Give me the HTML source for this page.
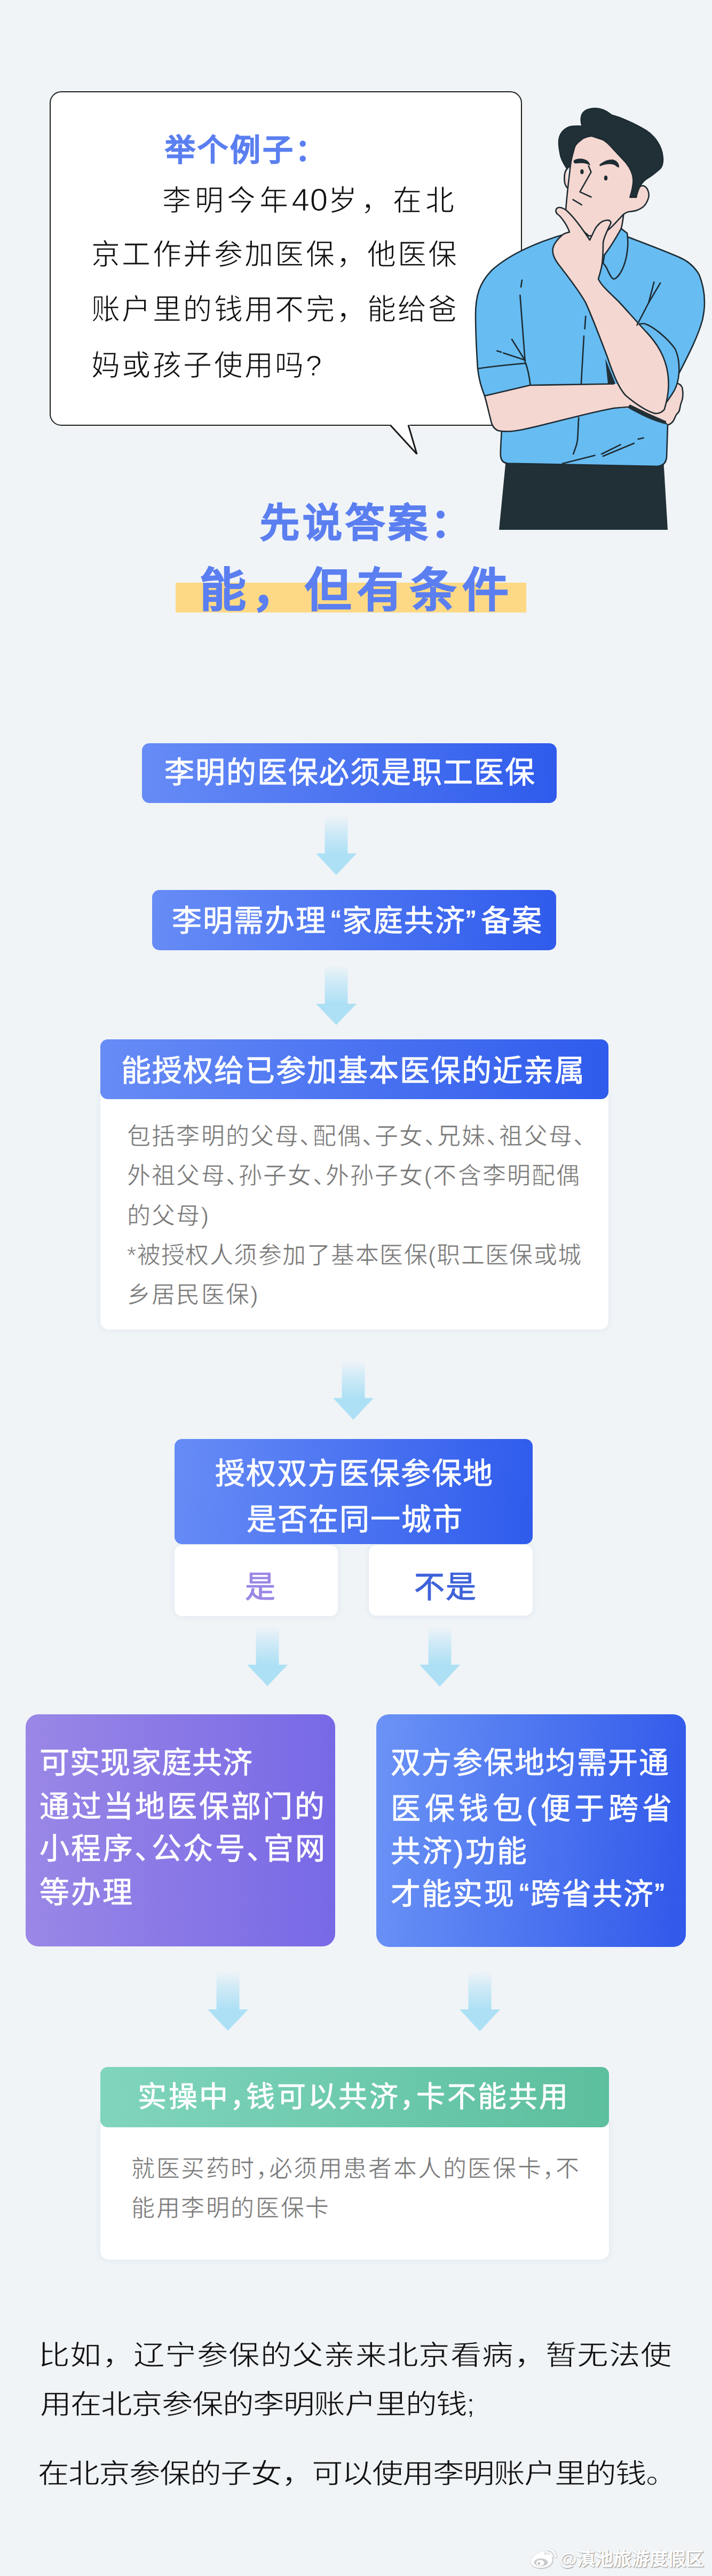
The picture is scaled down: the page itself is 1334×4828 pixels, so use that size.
<!DOCTYPE html>
<html lang="zh-CN"><head><meta charset="utf-8">
<style>
html,body{margin:0;padding:0;}
body{width:1334px;height:4828px;position:relative;overflow:hidden;background:#f0f4f7;font-family:"Liberation Sans",sans-serif;}
.a{position:absolute;white-space:nowrap;line-height:1.5;}
.bubble{position:absolute;left:92.5px;top:170.5px;width:881px;height:623px;border:2.8px solid #1b1b1b;border-radius:22px;background:#fff;}
.q{color:#111;font-size:54px;letter-spacing:3.4px;-webkit-text-stroke:1px #fff;paint-order:normal;}
.box{position:absolute;border-radius:14px;background:linear-gradient(95deg,#678cf6,#2f5bec);}
.wt{color:#fff;font-size:56px;letter-spacing:2px;-webkit-text-stroke:0.9px #fff;font-feature-settings:"halt";}
.card{position:absolute;background:#fff;border-radius:16px;box-shadow:0 0 12px rgba(180,200,225,0.35);}
.gt{color:#777;font-size:44px;letter-spacing:2.2px;font-feature-settings:"halt";-webkit-text-stroke:0.6px #fff;}
.bt{color:#111;font-size:51px;letter-spacing:4px;-webkit-text-stroke:0.8px #f0f4f7;transform:scaleX(1.15);transform-origin:0 0;}
.pt{color:#fff;font-size:56px;-webkit-text-stroke:0.8px #fff;font-feature-settings:"halt";}
</style></head><body>

<div class="bubble"></div>
<svg class="a" style="left:0;top:0;line-height:0" width="1334" height="900">
  <polygon points="729,795 767,795 781,851" fill="#fff"/>
  <polyline points="731,796.5 781,851 765,796.5" fill="none" stroke="#1b1b1b" stroke-width="3" stroke-linejoin="miter"/>
</svg>
<div class="a" style="left:309px;top:239px;font-size:57px;font-weight:bold;color:#5b7ff0;letter-spacing:4px;-webkit-text-stroke:1px #5b7ff0">举个例子：</div>
<div class="a q" style="left:304px;top:336px;letter-spacing:6.6px">李明今年<span style="font-size:60px;line-height:1;letter-spacing:1px">40</span>岁，在北</div>
<div class="a q" style="left:171px;top:437px">京工作并参加医保，他医保</div>
<div class="a q" style="left:171px;top:540px">账户里的钱用不完，能给爸</div>
<div class="a q" style="left:171px;top:645px">妈或孩子使用吗?</div>

<svg class="a" style="left:0;top:0;line-height:0" width="1334" height="1000" viewBox="0 0 1334 1000">
<g stroke="#1e2c33" stroke-width="2.6" stroke-linejoin="round" stroke-linecap="round">
  <!-- pants -->
  <path d="M948,860 L1243,860 L1251,993 L935,993 Z" fill="#213037" stroke="none"/>
  <!-- torso -->
  <path d="M1065,437 C1010,452 955,476 922,506 C898,530 891,555 891,590 C891,625 893,660 895,691 L985,681 L993,721 L940,800 C939,830 937,845 938,855 C939,864 944,868 952,868.5 L1232,874 C1243,873 1248,866 1249,857 L1251,796 L1240,775 L1240,700 L1272,700 C1290,665 1308,630 1316,600 C1323,570 1320,540 1310,515 C1300,497 1285,487 1270,481 C1240,468 1205,455 1176,444 L1162,426 Z" fill="#67bcf2"/>
  <!-- left sleeve cuff -->
  <path d="M895,691 C920,687 960,683 985,681 C990,695 992,708 993.5,721 C993,724 990,726 986,727 C960,732 930,738 908,742 C901,725 897,708 895,691 Z" fill="#67bcf2"/>
  <!-- horizontal forearm -->
  <path d="M908,742 L993,722 L1100,719.5 L1245,719.5 L1252,792 C1215,775 1190,762 1150,765 C1100,774 1044,791 980,805 C960,809 945,810 933,807 C924,803 921,795 919,785 C915,770 912,755 908,742 Z" fill="#f5d7d1" stroke="none"/><path d="M1150,719.5 L993,722 L908,742 C912,755 915,770 919,785 C921,795 924,803 933,807 C945,810 960,809 980,805 C1044,791 1100,774 1150,765 C1170,763 1180,762 1190,764" fill="none"/>
  <!-- dark shadow wedges -->
  <path d="M1134,672 L1153,719 L1139,719 Z" fill="#213037" stroke="none"/>
  <path d="M1180,758 C1205,770 1230,782 1250,790 L1251,796 C1225,790 1200,778 1176,764 Z" fill="#213037" stroke="none"/>
  <!-- right gripping hand -->
  <path d="M1250,716 L1268,718 C1275,720 1279,725 1279,732 C1280,740 1279.5,747 1277,753 C1275,757 1275,760 1274,764 C1273.5,769 1272,773 1268,776 C1265,780 1264,785 1262,788 C1259,793 1256,795 1252,796 L1248,792 L1244,760 L1240,716 Z" fill="#f5d7d1" stroke="none"/><path d="M1268,718 C1275,720 1279,725 1279,732 C1280,740 1279.5,747 1277,753 C1275,757 1275,760 1274,764 C1273.5,769 1272,773 1268,776 C1265,780 1264,785 1262,788 C1259,793 1256,795 1252,796" fill="none"/>
  <!-- right sleeve cuff around elbow -->
  <path d="M1193,610 C1198,607 1204,606 1209,607 C1225,613 1250,633 1265,654 C1271,667 1273,684 1272,700 C1271,715 1266,729 1259,739 C1255,745 1251,751 1247,756 L1236,700 Z" fill="#67bcf2"/>
  <!-- neck -->
  <path d="M1060,385 L1172,396 L1164,430 L1132,478 L1068,440 Z" fill="#f5d7d1" stroke="none"/>
  <path d="M1168.3,401.5 C1167,412 1166,422 1163.8,428.4 C1158,442 1150,453 1145.8,459.9 C1140,468 1136,474 1132.4,477.9" fill="none"/>
  <!-- collar right -->
  <path d="M1163.8,428.4 L1175,437 C1178,455 1176,480 1168,500 C1163,512 1156,522 1150,523 C1145,522 1141,512 1137,503 C1134,498 1132,495 1130,493.6 L1132.4,477.9 C1140,468 1150,453 1163.8,428.4 Z" fill="#67bcf2"/>
  <!-- face -->
  <path d="M1068.8,309.5 C1066,335 1062,365 1060,395 L1065,405 C1075,418 1092,432 1103,442 C1110,443 1120,440 1137,433 C1148,425 1160,410 1168.3,401.5 C1172,399 1176,397 1178.6,396.7 C1186,396 1192,395 1194.7,393.5 C1204,390 1212,384 1215.7,367.7 C1216,358 1212,350 1205,348 C1198,348 1192,355 1188.3,367.7 L1192,369.6 L1195,340 L1170,290 L1130,262 L1107.5,254.6 C1098,256 1090,260 1088,262.7 C1080,268 1076,275 1075.2,280.4 C1071,295 1069,305 1068.8,309.5 Z" fill="#f5d7d1"/>
  <!-- left ear -->
  <path d="M1063,316 C1058,320 1057,330 1057.5,338.6 C1058,345 1060,349 1063,352" fill="#f5d7d1"/>
  <!-- hair -->
  <path d="M1047.8,259.5 C1050,248 1060,238 1072,236.8 C1080,236 1086,236 1091.4,236.8 C1087,228 1088,214 1094.6,209.4 C1100,204 1115,200 1130,206 C1138,209 1142,213 1146,215.8 C1160,219 1190,232 1210.9,244.9 C1228,256 1240,275 1241.6,293.4 C1243,305 1240,313 1236.7,316 C1230,322 1220,330 1213,334 C1203,340 1196,350 1192,369.6 L1180.4,369.6 C1184,358 1187,345 1186.3,336 C1186,326 1180,314 1172.6,304.7 C1163,294 1152,283 1145,275 C1135,264 1125,255 1107.5,254.6 C1098,256 1090,260 1088.1,262.7 C1080,268 1076,275 1075.2,280.4 C1071,295 1069,305 1068.8,309.5 C1067,312 1064,315 1062.3,316 C1055,305 1050,295 1049.4,286.9 C1047,275 1046.5,265 1047.8,259.5 Z" fill="#213037"/>
  <!-- eyebrows eyes nose mouth -->
  <path d="M1076,300 C1083,295.5 1095,296.5 1101,301.5 C1104,304.5 1106,308 1105.5,310.5 C1101,306.5 1092,304.5 1078,306.5 C1074.5,305.5 1073.5,302 1076,300 Z" fill="#1e2c33" stroke="none"/>
  <path d="M1123,309 C1130,302 1142,297.5 1150,299.5 C1156,301.5 1160.5,307 1160,313.5 C1157.5,314.5 1155,312 1152,309.5 C1145,306 1135,307 1124,311.5 Z" fill="#1e2c33" stroke="none"/>
  <ellipse cx="1090.4" cy="321.8" rx="3.2" ry="4.6" fill="#1e2c33" stroke="none"/>
  <ellipse cx="1135" cy="333.7" rx="3.2" ry="4.6" fill="#1e2c33" stroke="none"/>
  <path d="M1102.7,311.1 L1107.5,322.4 L1086.5,359.6 L1107.5,369.3" fill="none"/>
  <path d="M1073.6,374.1 L1089.8,383.8" fill="none"/>
  <!-- chin hand + raised forearm -->
  <path d="M1042.5,391.3 C1047,386 1056,390 1062,395 C1075,407 1092,430 1105,450 L1114,431 C1119,421 1128,413 1137,412.7 C1143,412 1146,416 1143.6,420 C1138,432 1131,445 1130,455 C1130,470 1130,480 1128,495 C1126,508 1122,518 1121,523 C1127,535 1138,545 1158,564 C1175,582 1190,600 1211.7,623 C1232,645 1246,668 1251,698.6 C1254,720 1253,740 1244.6,767.6 C1238,775 1230,776 1224.9,774.2 C1205,768 1185,752 1172.3,741.3 C1160,728 1150,705 1137.7,668.5 C1125,635 1110,595 1097.3,567.4 C1085,545 1065,520 1050,500 C1040,488 1034,475 1036,465 C1038,455 1046,447 1054,440 C1058,437 1063,436 1067,435 C1062,420 1050,405 1044.7,401.5 C1041,398 1041,394 1042.5,391.3 Z" fill="#f5d7d1"/>
  <!-- detail lines -->
  <g fill="none">
    <path d="M1097.3,592.7 L1095.6,616.3"/>
    <path d="M1094,629.8 L1088.9,719"/>
    <path d="M1084.3,782.8 C1083,800 1083,815 1081.8,825.7 C1080,837 1076,845 1074.2,851"/>
    <path d="M1225.4,528.6 L1215.3,567.4 L1193.4,609.5"/>
    <path d="M1237.2,530.3 L1215.3,567.4"/>
    <path d="M1054,868.7 L1114.6,853.5"/>
    <path d="M1127,851 L1162.7,833.3"/>
    <path d="M1129.8,855 L1188,830.8"/>
    <path d="M1195.5,823 L1205.6,820.7"/>
    <path d="M978,525 L976,538"/>
    <path d="M974.4,553.4 C978,600 981,640 984,680"/>
    <path d="M931,657.6 L939,660"/>
    <path d="M943,661.5 L984,675"/>
    <path d="M959,636 L984,676"/>
  </g>
</g>
</svg>


<div class="a" style="left:487px;top:925px;font-size:74px;font-weight:bold;color:#5b7ff0;letter-spacing:6px;-webkit-text-stroke:1.5px #5b7ff0">先说答案：</div>
<div class="a" style="left:329px;top:1092px;width:657px;height:56px;background:#fdd985;line-height:normal"></div>
<div class="a" style="left:374px;top:1042px;font-size:87px;font-weight:bold;color:#5b7ff0;letter-spacing:11.4px;-webkit-text-stroke:1.5px #5b7ff0">能，但有条件</div>

<svg class="a" style="left:589.5px;top:1528px;line-height:0" width="80" height="114" viewBox="589.5 1528 80 114">
<defs><linearGradient id="ag6291528" x1="0" y1="1528" x2="0" y2="1599.5" gradientUnits="userSpaceOnUse"><stop offset="0" stop-color="#b2e1f6" stop-opacity="0"/><stop offset="0.45" stop-color="#b2e1f6" stop-opacity="0.55"/><stop offset="1" stop-color="#ade0f5" stop-opacity="1"/></linearGradient></defs>
<polygon points="608.0,1528 651.0,1528 651.0,1599.5 667.5,1599.5 629.5,1640 591.5,1599.5 608.0,1599.5" fill="url(#ag6291528)"/></svg>
<svg class="a" style="left:589.5px;top:1808px;line-height:0" width="80" height="115" viewBox="589.5 1808 80 115">
<defs><linearGradient id="ag6291808" x1="0" y1="1808" x2="0" y2="1881.3" gradientUnits="userSpaceOnUse"><stop offset="0" stop-color="#b2e1f6" stop-opacity="0"/><stop offset="0.45" stop-color="#b2e1f6" stop-opacity="0.55"/><stop offset="1" stop-color="#ade0f5" stop-opacity="1"/></linearGradient></defs>
<polygon points="608.0,1808 651.0,1808 651.0,1881.3 667.5,1881.3 629.5,1921 591.5,1881.3 608.0,1881.3" fill="url(#ag6291808)"/></svg>
<svg class="a" style="left:621.5px;top:2550px;line-height:0" width="80" height="113" viewBox="621.5 2550 80 113">
<defs><linearGradient id="ag6612550" x1="0" y1="2550" x2="0" y2="2620.3" gradientUnits="userSpaceOnUse"><stop offset="0" stop-color="#b2e1f6" stop-opacity="0"/><stop offset="0.45" stop-color="#b2e1f6" stop-opacity="0.55"/><stop offset="1" stop-color="#ade0f5" stop-opacity="1"/></linearGradient></defs>
<polygon points="640.0,2550 683.0,2550 683.0,2620.3 699.5,2620.3 661.5,2661 623.5,2620.3 640.0,2620.3" fill="url(#ag6612550)"/></svg>
<svg class="a" style="left:461px;top:3048px;line-height:0" width="80" height="114" viewBox="461 3048 80 114">
<defs><linearGradient id="ag5013048" x1="0" y1="3048" x2="0" y2="3120" gradientUnits="userSpaceOnUse"><stop offset="0" stop-color="#b2e1f6" stop-opacity="0"/><stop offset="0.45" stop-color="#b2e1f6" stop-opacity="0.55"/><stop offset="1" stop-color="#ade0f5" stop-opacity="1"/></linearGradient></defs>
<polygon points="479.5,3048 522.5,3048 522.5,3120 539,3120 501,3160 463,3120 479.5,3120" fill="url(#ag5013048)"/></svg>
<svg class="a" style="left:783.7px;top:3048px;line-height:0" width="80" height="115" viewBox="783.7 3048 80 115">
<defs><linearGradient id="ag8233048" x1="0" y1="3048" x2="0" y2="3120" gradientUnits="userSpaceOnUse"><stop offset="0" stop-color="#b2e1f6" stop-opacity="0"/><stop offset="0.45" stop-color="#b2e1f6" stop-opacity="0.55"/><stop offset="1" stop-color="#ade0f5" stop-opacity="1"/></linearGradient></defs>
<polygon points="802.2,3048 845.2,3048 845.2,3120 861.7,3120 823.7,3161 785.7,3120 802.2,3120" fill="url(#ag8233048)"/></svg>
<svg class="a" style="left:387px;top:3694px;line-height:0" width="80" height="114" viewBox="387 3694 80 114">
<defs><linearGradient id="ag4273694" x1="0" y1="3694" x2="0" y2="3766" gradientUnits="userSpaceOnUse"><stop offset="0" stop-color="#b2e1f6" stop-opacity="0"/><stop offset="0.45" stop-color="#b2e1f6" stop-opacity="0.55"/><stop offset="1" stop-color="#ade0f5" stop-opacity="1"/></linearGradient></defs>
<polygon points="405.5,3694 448.5,3694 448.5,3766 465,3766 427,3806 389,3766 405.5,3766" fill="url(#ag4273694)"/></svg>
<svg class="a" style="left:859px;top:3694px;line-height:0" width="80" height="115" viewBox="859 3694 80 115">
<defs><linearGradient id="ag8993694" x1="0" y1="3694" x2="0" y2="3766" gradientUnits="userSpaceOnUse"><stop offset="0" stop-color="#b2e1f6" stop-opacity="0"/><stop offset="0.45" stop-color="#b2e1f6" stop-opacity="0.55"/><stop offset="1" stop-color="#ade0f5" stop-opacity="1"/></linearGradient></defs>
<polygon points="877.5,3694 920.5,3694 920.5,3766 937,3766 899,3807 861,3766 877.5,3766" fill="url(#ag8993694)"/></svg>

<div class="box" style="left:266px;top:1393px;width:777px;height:112px"></div>
<div class="a wt" style="left:308px;top:1406px">李明的医保必须是职工医保</div>
<div class="box" style="left:285px;top:1668px;width:757px;height:113px"></div>
<div class="a wt" style="left:322px;top:1684px">李明需办理<span style="margin-left:8px">“</span>家庭共济”<span style="margin-left:8px"></span>备案</div>

<div class="card" style="left:188px;top:2040px;width:952px;height:452px"></div>
<div class="box" style="left:188px;top:1948px;width:952px;height:112px"></div>
<div class="a wt" style="left:227px;top:1965px">能授权给已参加基本医保的近亲属</div>
<div class="a gt" style="left:238px;top:2097px">包括李明的父母、配偶、子女、兄妹、祖父母、</div>
<div class="a gt" style="left:238px;top:2171px">外祖父母、孙子女、外孙子女(不含李明配偶</div>
<div class="a gt" style="left:238px;top:2246px">的父母)</div>
<div class="a gt" style="left:238px;top:2320px;letter-spacing:1.45px">*被授权人须参加了基本医保(职工医保或城</div>
<div class="a gt" style="left:238px;top:2394px">乡居民医保)</div>

<div class="card" style="left:327px;top:2896px;width:306px;height:133px;border-radius:14px"></div>
<div class="card" style="left:691px;top:2896px;width:307px;height:132px;border-radius:14px"></div>
<div class="box" style="left:327px;top:2697px;width:671px;height:197px"></div>
<div class="a wt" style="left:403px;top:2720px">授权双方医保参保地</div>
<div class="a wt" style="left:462px;top:2806px">是否在同一城市</div>
<div class="a" style="left:459px;top:2932px;font-size:57px;color:#9b86e6;-webkit-text-stroke:1.1px #9b86e6">是</div>
<div class="a" style="left:776px;top:2932px;font-size:57px;color:#3e62d9;letter-spacing:2px;-webkit-text-stroke:1.1px #3e62d9">不是</div>

<div class="box" style="left:48px;top:3213px;width:580px;height:435px;border-radius:24px;background:linear-gradient(90deg,#9a87e6,#7769e6)"></div>
<div class="a pt" style="left:74px;top:3262px;letter-spacing:1.2px">可实现家庭共济</div>
<div class="a pt" style="left:74px;top:3344px;letter-spacing:3.75px">通过当地医保部门的</div>
<div class="a pt" style="left:74px;top:3423px;letter-spacing:3.45px">小程序、公众号、官网</div>
<div class="a pt" style="left:74px;top:3505px;letter-spacing:3px">等办理</div>

<div class="box" style="left:705px;top:3213px;width:580px;height:436px;border-radius:24px;background:linear-gradient(95deg,#6b93f6,#3058ea)"></div>
<div class="a pt" style="left:732px;top:3262px;letter-spacing:2.1px">双方参保地均需开通</div>
<div class="a pt" style="left:732px;top:3348px;letter-spacing:7.6px">医保钱包(便于跨省</div>
<div class="a pt" style="left:732px;top:3428px;letter-spacing:3px">共济)功能</div>
<div class="a pt" style="left:732px;top:3508px;letter-spacing:2.2px">才能实现<span style="margin-left:8px">“</span>跨省共济”</div>

<div class="card" style="left:188px;top:3970px;width:953px;height:265px"></div>
<div class="box" style="left:188px;top:3874px;width:953px;height:113px;background:linear-gradient(90deg,#80d5bd,#5cbf9e)"></div>
<div class="a pt" style="left:258px;top:3890px;font-size:54px;letter-spacing:3.6px">实操中，钱可以共济，卡不能共用</div>
<div class="a gt" style="left:246px;top:4032px;letter-spacing:2.6px">就医买药时，必须用患者本人的医保卡，不</div>
<div class="a gt" style="left:246px;top:4106px;letter-spacing:2.6px">能用李明的医保卡</div>

<div class="a bt" style="left:72px;top:4377px;letter-spacing:0.63px">比如，辽宁参保的父亲来北京看病，暂无法使</div>
<div class="a bt" style="left:75px;top:4469px;letter-spacing:-1.39px">用在北京参保的李明账户里的钱;</div>
<div class="a bt" style="left:71px;top:4599px;letter-spacing:-1.48px">在北京参保的子女，可以使用李明账户里的钱。</div>

<svg class="a" style="left:985px;top:4768px;line-height:0" width="64" height="56" viewBox="985 4768 64 56">
<defs><filter id="ws" x="-30%" y="-30%" width="160%" height="160%"><feDropShadow dx="0.6" dy="0.8" stdDeviation="1.1" flood-color="#000" flood-opacity="0.45"/></filter></defs>
<g filter="url(#ws)">
<path d="M1014,4783 C1020,4781 1022,4785 1020,4789 C1026,4786 1034,4786 1034,4793 C1036,4797 1035,4803 1031,4807 C1025,4812 1015,4814 1006,4812 C998,4810 994,4805 996,4799 C998,4792 1006,4786 1014,4783 Z" fill="#fff"/>
<ellipse cx="1013.5" cy="4802.5" rx="13" ry="7.5" fill="#c9cbcd"/>
<ellipse cx="1012" cy="4803.5" rx="7.5" ry="5.5" fill="#fff"/>
<circle cx="1009.8" cy="4804.4" r="2.2" fill="#b0b2b4"/>
<path d="M1027,4778 C1035,4779 1040,4785 1041,4792" fill="none" stroke="#fff" stroke-width="3" stroke-linecap="round"/>
<path d="M1028,4784 C1032,4785 1034,4788 1035,4791" fill="none" stroke="#fff" stroke-width="2.6" stroke-linecap="round"/>
</g></svg>
<div class="a" style="left:1048px;top:4771px;font-size:34px;font-weight:bold;color:#fff;text-shadow:0.6px 0.8px 1.5px rgba(0,0,0,0.5)">@滇池旅游度假区</div>

</body></html>
